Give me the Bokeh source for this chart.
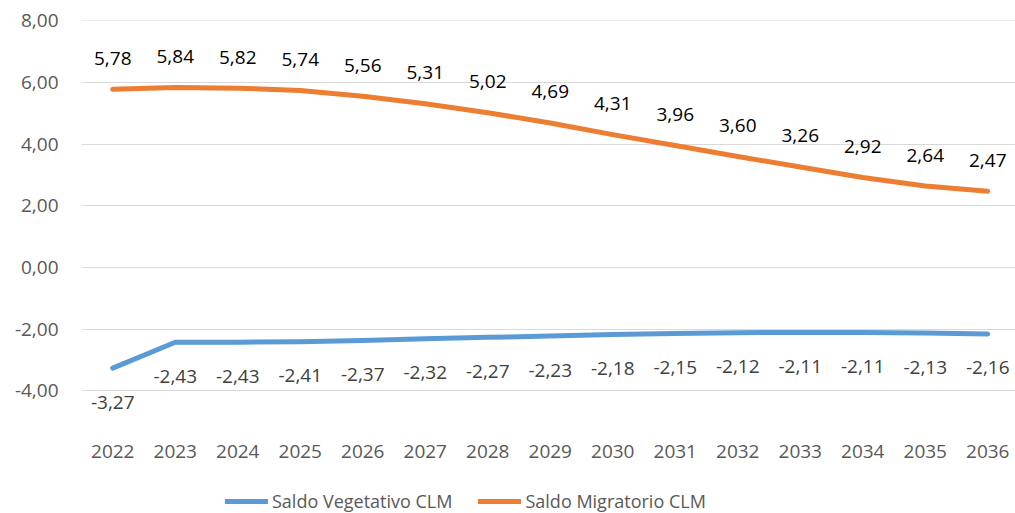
from bokeh.plotting import figure
from bokeh.models import (ColumnDataSource, LabelSet, Legend, LegendItem,
                          FixedTicker, CustomJSTickFormatter, Range1d)
from bokeh.core.properties import value
from bokeh.embed import file_html
from bokeh.resources import INLINE

years = [2022, 2023, 2024, 2025, 2026, 2027, 2028, 2029, 2030, 2031, 2032, 2033, 2034, 2035, 2036]
saldo_vegetativo = [-3.27, -2.43, -2.43, -2.41, -2.37, -2.32, -2.27, -2.23, -2.18, -2.15, -2.12, -2.11, -2.11, -2.13, -2.16]
saldo_migratorio = [5.78, 5.84, 5.82, 5.74, 5.56, 5.31, 5.02, 4.69, 4.31, 3.96, 3.60, 3.26, 2.92, 2.64, 2.47]
y_ticks = [-4, -2, 0, 2, 4, 6, 8]
series_names = ["Saldo Vegetativo CLM", "Saldo Migratorio CLM"]

FONT = "Open Sans"
FS = "19px"
BLUE = "#5B9BD5"
ORANGE = "#ED7D31"
GRAY = "#595959"


def fmt(v):
    return f"{v:.2f}".replace(".", ",")


src_v = ColumnDataSource(dict(x=years, y=saldo_vegetativo, t=[fmt(v) for v in saldo_vegetativo]))
src_m = ColumnDataSource(dict(x=years, y=saldo_migratorio, t=[fmt(v) for v in saldo_migratorio]))

p = figure(width=1015, height=513, output_backend="svg", toolbar_location=None,
           x_range=Range1d(2021.5, 2036.444), y_range=Range1d(-7.99, 8.016),
           min_border=0, min_border_left=81, min_border_right=0,
           min_border_top=20, min_border_bottom=0)
p.outline_line_color = None
p.background_fill_color = "white"
p.border_fill_color = "white"

r_v = p.line("x", "y", source=src_v, line_color=BLUE, line_width=5,
             line_cap="round", line_join="round")
r_m = p.line("x", "y", source=src_m, line_color=ORANGE, line_width=5,
             line_cap="round", line_join="round")

lab_m = LabelSet(x="x", y="y", text="t", source=src_m, y_offset=31,
                 text_align="center", text_baseline="middle",
                 text_font=value(FONT), text_font_size=value(FS), text_color="#000000")
lab_v = LabelSet(x="x", y="y", text="t", source=src_v, y_offset=-34,
                 text_align="center", text_baseline="middle",
                 text_font=value(FONT), text_font_size=value(FS), text_color="#404040")
p.add_layout(lab_m)
p.add_layout(lab_v)

# axes
p.xaxis.ticker = FixedTicker(ticks=years)
p.xaxis.formatter = CustomJSTickFormatter(code="return tick.toFixed(0);")
p.xaxis.fixed_location = -4
p.yaxis.ticker = FixedTicker(ticks=y_ticks)
p.yaxis.formatter = CustomJSTickFormatter(code="return tick.toFixed(2).replace('.', ',');")
for ax in (p.xaxis[0], p.yaxis[0]):
    ax.axis_line_color = None
    ax.major_tick_line_color = None
    ax.minor_tick_line_color = None
    ax.major_tick_out = 0
    ax.major_tick_in = 0
    ax.minor_tick_out = 0
    ax.minor_tick_in = 0
    ax.major_label_text_font = FONT
    ax.major_label_text_font_size = FS
    ax.major_label_text_color = GRAY
p.xaxis.major_label_standoff = 54
p.yaxis.major_label_standoff = 23

p.xgrid.grid_line_color = None
p.ygrid.ticker = FixedTicker(ticks=y_ticks)
p.ygrid.grid_line_color = "#D9D9D9"
p.ygrid.grid_line_width = 1

legend = Legend(items=[LegendItem(label=series_names[0], renderers=[r_v]),
                       LegendItem(label=series_names[1], renderers=[r_m])],
                location=(144, 0), orientation="horizontal",
                glyph_width=43, glyph_height=16, label_height=16,
                label_standoff=4, spacing=26, padding=0, margin=0,
                label_text_font=FONT, label_text_font_size="18px",
                label_text_color=GRAY, border_line_color=None,
                background_fill_alpha=0)
p.add_layout(legend, "center")

open("out.html", "w").write(file_html(p, INLINE))
